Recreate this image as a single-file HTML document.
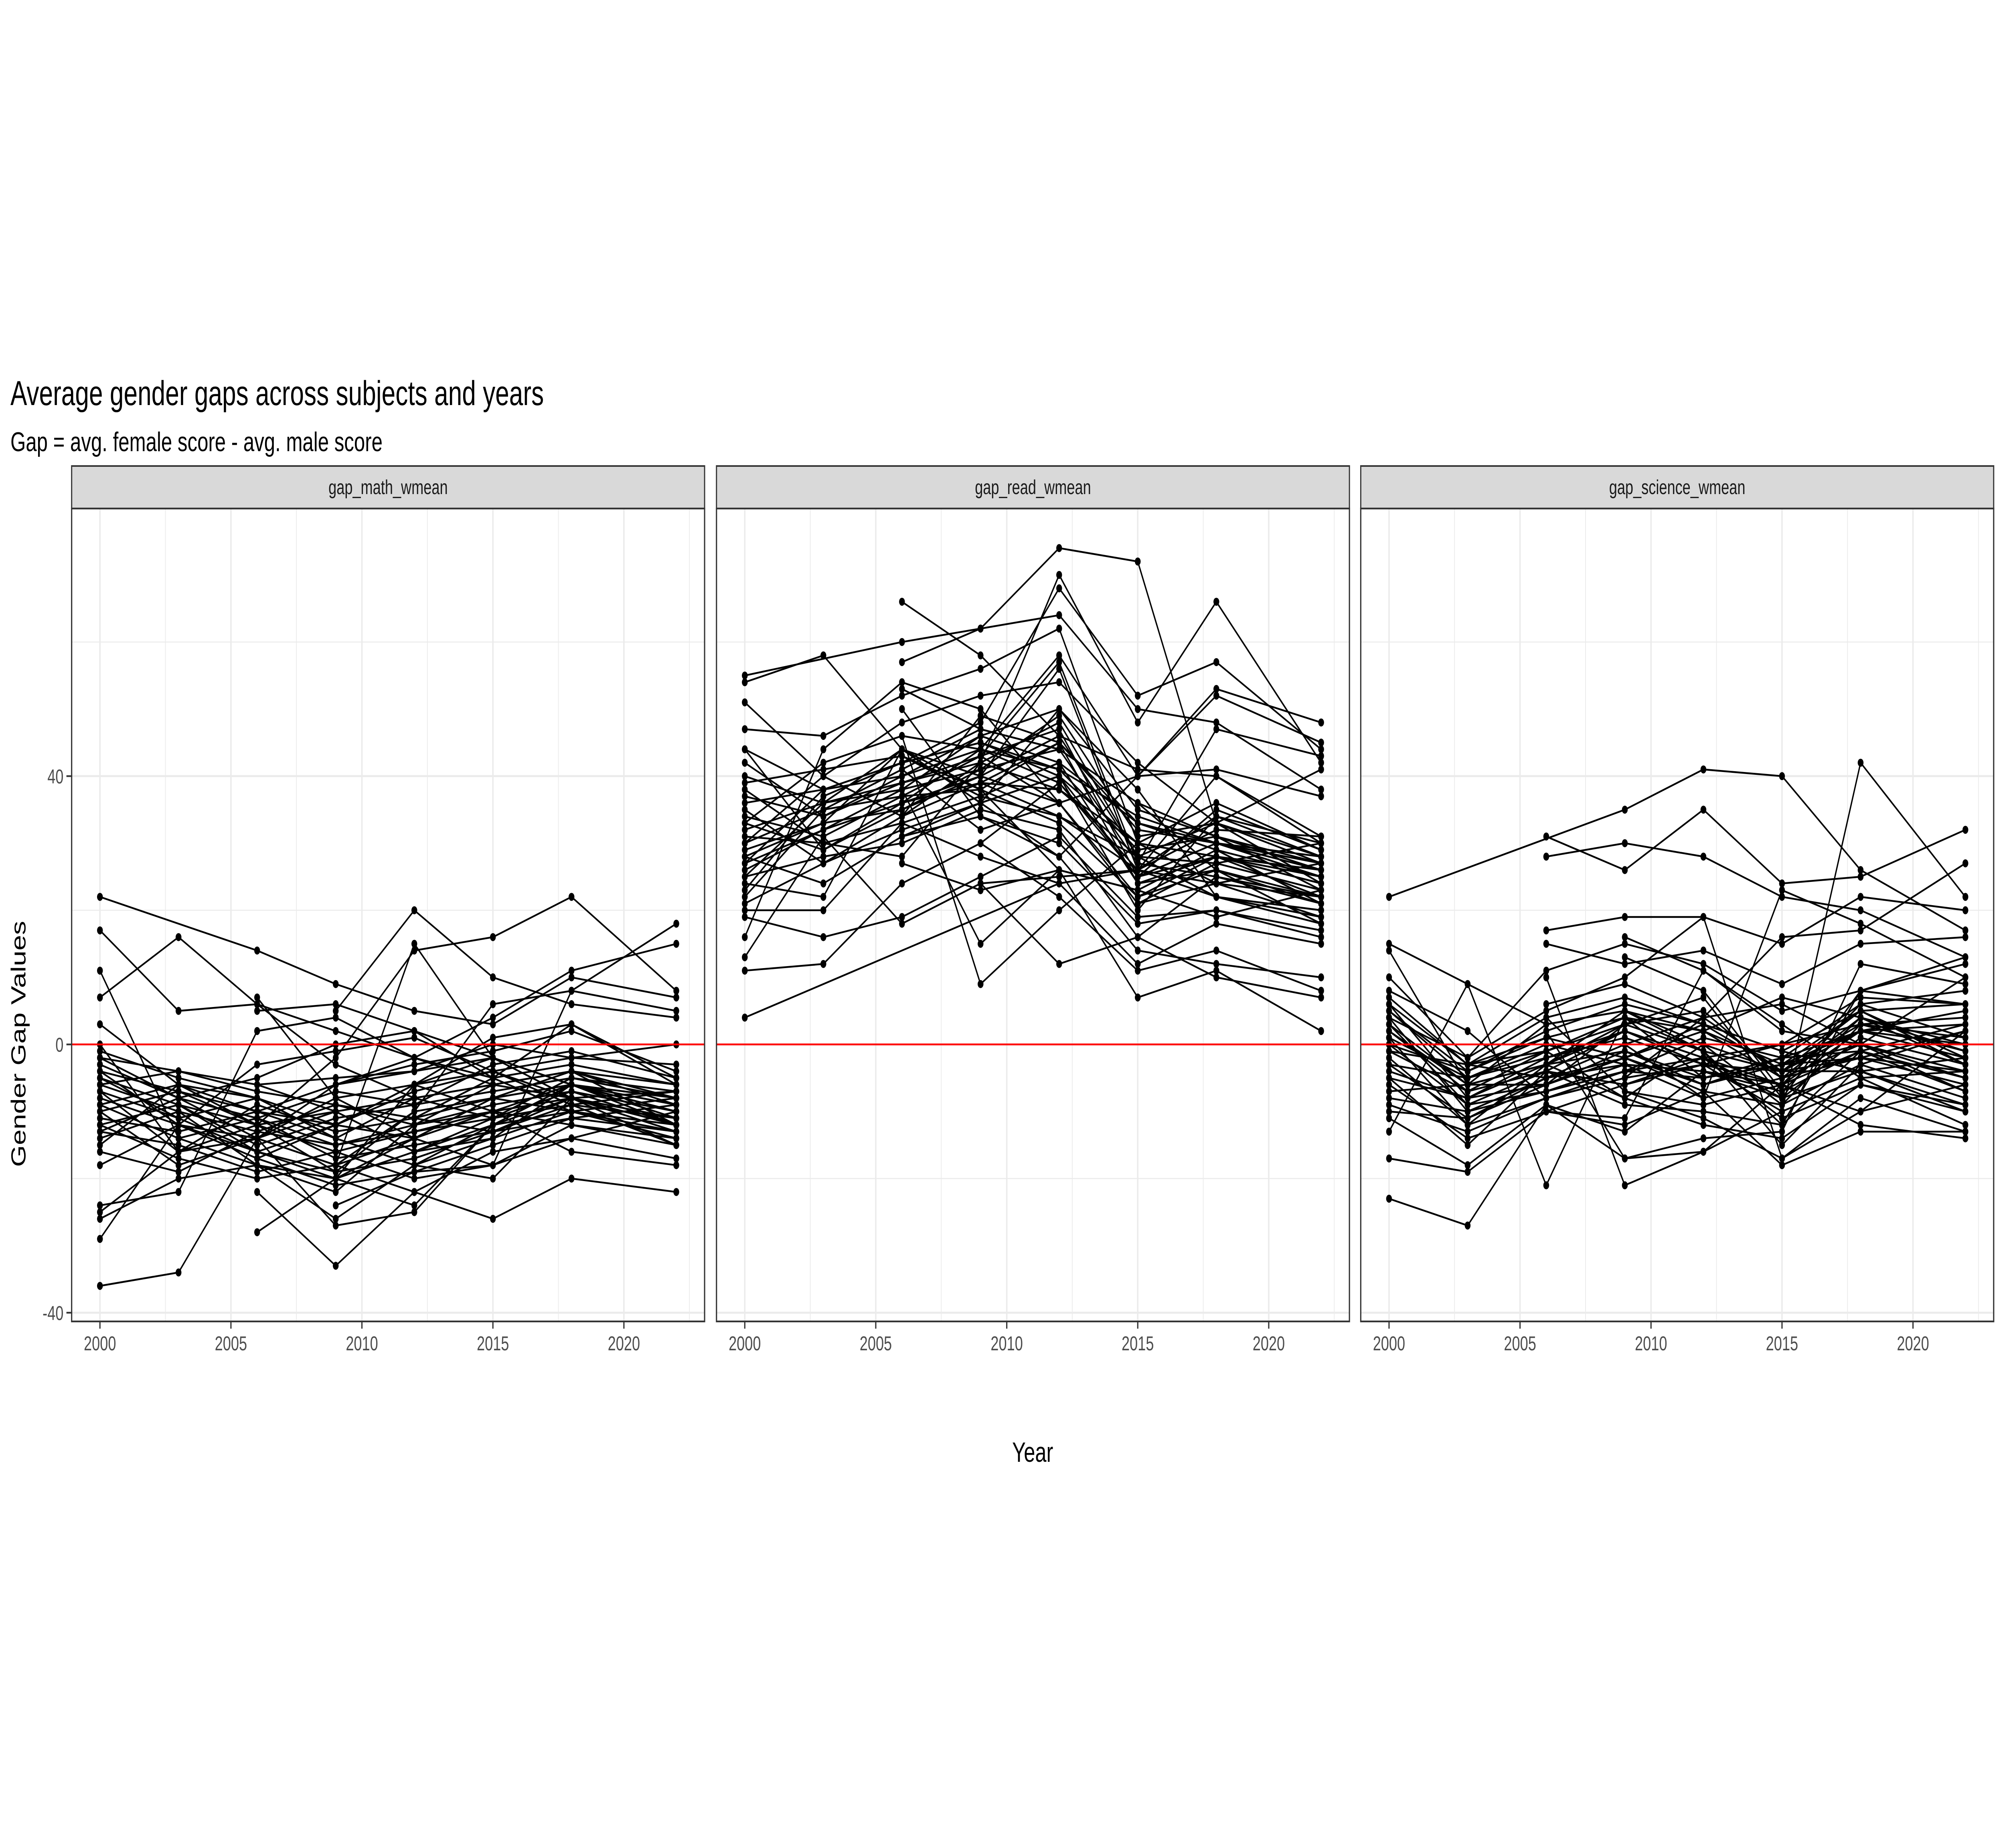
<!DOCTYPE html>
<html><head><meta charset="utf-8">
<style>
html,body{margin:0;padding:0;background:#fff;overflow:hidden;width:100vw;height:100vh;}
svg{display:block;font-family:"Liberation Sans",Arial,sans-serif;width:100vw;height:100vh;}
</style></head>
<body>
<svg id="chart" viewBox="0 0 6912 4608" preserveAspectRatio="none" xmlns="http://www.w3.org/2000/svg">
<rect width="6912" height="4608" fill="#fff"/>
<text x="36" y="1010" font-size="86" fill="#000">Average gender gaps across subjects and years</text>
<text x="36" y="1125" font-size="68" fill="#000">Gap = avg. female score - avg. male score</text>
<text transform="translate(88,2603) rotate(-90)" text-anchor="middle" font-size="70" fill="#000">Gender Gap Values</text>
<text x="3560" y="3645" text-anchor="middle" font-size="70" fill="#000">Year</text>
<g id="panels"></g>
</svg>
<script>
const years = [2000,2003,2006,2009,2012,2015,2018,2022];
const panelNames = ["gap_math_wmean","gap_read_wmean","gap_science_wmean"];
const yTicks = [-40,0,40];
const yMinor = [-20,20,60];
const xTicks = [2000,2005,2010,2015,2020];
const xMinor = [2002.5,2007.5,2012.5,2017.5,2022.5];
const mathSeries = [
[22,null,14,9,5,3,10,7],[17,5,6,-3,-8,-6,-4,-12],[11,-14,-18,-20,-24,-12,-6,-10],[7,16,6,2,-2,-5,3,-5],
[3,-6,-10,-14,-18,-20,-8,-11],[0,-16,-12,-2,14,16,22,8],[-1,-5,-8,-12,-6,-2,-6,-12],[-3,-8,-14,-18,-14,-8,-6,-10],
[-4,-7,-10,-12,-14,-10,-8,-13],[-5,-9,-12,-10,-8,-6,-4,-9],[-6,-4,-6,-5,-4,-2,-6,-11],[-7,-11,-16,-20,-16,-12,-10,-14],
[-8,-12,-3,-1,1,-4,-8,-12],[-9,-6,-8,-14,-18,-14,-6,-8],[-10,-18,-14,-8,-6,-10,-12,-15],[-11,-13,-10,-6,-3,-1,2,-4],
[-12,-17,-20,-18,-10,-8,-4,-6],[-13,-8,-5,0,2,-5,-10,-13],[-14,-10,-18,-22,-12,-6,-8,-15],[-15,-6,-12,-16,-20,-18,-14,-17],
[-18,-12,-14,-10,-16,-14,-10,-12],[-24,-22,2,4,-2,-6,-4,-8],[-25,-16,-14,-18,-22,-16,-14,-10],[-26,-20,-18,-26,-18,-12,-8,-7],
[-29,-12,-16,-12,-6,-4,-2,0],[-36,-34,-14,-6,-4,0,-2,-3],[null,null,5,6,2,-2,-6,-9],[null,null,7,-8,-14,-18,-12,-14],
[null,null,-28,-20,-14,-8,-6,-10],[null,null,-22,-33,-22,-26,-20,-22],[null,null,-14,-27,-25,-12,-10,-8],[null,null,null,5,20,10,6,4],
[null,null,null,-18,15,-2,-8,-12],[null,null,null,-24,-19,-18,8,18],[null,null,null,-6,-2,4,11,15],[null,null,null,-9,-12,-10,-16,-18],
[null,null,null,-20,-6,1,3,-6],[null,null,-11,-15,-13,-11,-9,-7],[-2,-4,-7,-9,-11,-13,-11,-9],[null,-9,-16,-19,-10,6,8,5],
[-6,-10,-13,-15,-12,-9,-7,-10],[-9,-14,-11,-17,-15,-13,-8,-12],[-12,-9,-15,-11,-9,-7,-5,-8],[-4,-12,-17,-21,-19,-15,-11,-13],
[-7,-16,-9,-13,-11,-5,-3,-6],[-10,-7,-12,-19,-17,-13,-9,-11],[-2,-8,-11,-7,-9,-3,-1,-5],[-13,-15,-19,-16,-13,-10,-6,-9],
[-16,-19,-13,-9,-11,-8,-10,-14],[-5,-11,-8,-14,-8,-11,-7,-12],[null,null,-6,-10,-16,-11,-5,-7],[null,null,-17,-12,-7,-4,-9,-15]
];
const readSeries = [
[55,null,60,62,74,72,33,41],[54,58,44,36,50,38,22,20],[51,40,34,42,70,48,66,42],[47,46,52,56,62,30,28,25],
[44,38,42,48,68,52,57,44],[44,29,36,40,56,26,40,31],[42,34,40,44,58,40,53,48],[40,36,44,38,45,32,30,28],
[38,30,28,42,48,28,33,24],[37,34,39,43,36,22,26,18],[35,27,32,36,40,20,34,30],[33,42,46,44,39,25,28,22],
[32,36,38,41,44,36,31,23],[31,30,33,37,34,26,24,19],[30,40,48,52,54,42,33,27],[29,33,35,40,46,28,22,20],
[28,24,31,34,30,18,20,16],[27,38,40,46,42,24,28,26],[26,32,36,39,38,30,36,29],[25,28,30,35,32,16,25,22],
[24,22,44,36,28,14,12,10],[23,37,42,45,41,34,30,25],[22,35,37,38,26,23,29,21],[20,20,33,28,24,12,18,15],
[19,16,19,25,31,19,20,17],[16,44,54,50,36,40,41,37],[13,31,18,24,12,16,10,7],[11,12,24,30,22,11,14,8],
[4,null,null,null,24,26,34,28],[null,null,66,58,46,41,40,30],[null,null,57,62,64,50,48,38],[null,null,53,47,44,36,26,21],
[null,null,50,34,28,40,52,45],[null,null,46,9,20,30,24,22],[null,null,41,32,36,21,24,27],[null,null,38,15,26,7,11,2],
[null,null,27,23,26,23,19,23],[null,null,34,49,45,33,30,27],[null,null,null,43,57,27,47,43],[null,null,null,30,39,26,32,31],
[null,null,null,24,25,26,22,18],[null,null,null,39,34,28,27,30],
[36,38,42,45,40,30,28,24],[34,31,37,43,47,25,30,26],[30,35,41,47,44,27,25,21],[28,33,44,40,36,21,27,23],
[33,29,35,41,49,31,33,28],[25,36,39,42,38,28,22,19],[39,41,43,37,42,33,29,25],[21,27,34,39,45,24,26,22],
[null,null,36,44,41,29,31,26],[null,null,43,38,33,22,28,24],[null,null,31,36,40,25,35,29],[27,32,38,46,50,35,31,27]
];
const scienceSeries = [
[22,null,null,35,41,40,26,17],[15,9,3,5,2,-3,0,-5],[14,-6,-3,2,-2,-6,2,5],[10,-2,5,10,19,-17,-8,-13],
[8,2,-8,-5,4,6,0,10],[7,-3,1,4,-1,-4,3,1],[6,-8,-3,-1,-5,-2,6,8],[5,-4,2,6,3,-1,-4,-2],
[4,-10,-5,-2,2,7,4,-1],[3,-6,-6,3,7,-8,8,12],[2,-7,-4,-6,-3,-4,-2,-6],[1,-5,-2,1,-3,-10,-5,-4],
[0,-9,-7,-4,1,-2,2,0],[-1,-3,4,-7,-9,-6,-1,3],[-2,-12,-8,-4,-5,-3,5,-3],[-3,-5,-1,3,5,-5,0,-7],
[-4,-8,-6,-2,-7,-9,-3,-8],[-6,-14,-10,-6,-2,0,3,-1],[-7,-6,-3,-8,-12,-14,-6,-10],[-10,-11,-5,-3,-4,-6,-12,-14],
[-11,-18,-9,-17,-16,-6,-10,2],[-13,9,-21,4,-5,-3,-2,2],[-17,-19,-10,-12,-7,-18,-13,-13],[-23,-27,-9,-13,-4,-8,-4,-10],
[-9,-13,-8,-5,-3,0,7,6],[-5,-15,-4,-9,-10,-12,-1,-5],[4,-2,11,15,12,5,8,13],[null,null,31,26,35,24,25,32],
[null,null,28,30,28,22,20,13],[null,null,17,19,19,15,22,20],[null,null,15,12,14,9,15,16],[null,null,10,-21,-16,-10,42,22],
[null,null,6,9,4,16,17,27],[null,null,2,-17,-14,-13,12,9],[null,null,-10,-11,11,2,0,-4],[null,null,-3,5,-1,-15,-3,2],
[null,null,null,13,8,-7,4,-3],[null,null,null,16,11,3,-5,-12],[null,null,null,-7,-11,-17,-10,-6],[null,null,null,0,-8,23,18,10],
[null,null,null,-2,3,-4,-4,-9],[null,-3,-1,-8,0,-4,5,6],
[3,-9,-4,2,-2,-8,1,-3],[-1,-7,-1,4,2,-5,4,0],[5,-5,0,-3,-4,-7,-1,-5],[-3,-11,-6,-1,-6,-3,2,-2],
[2,-6,3,5,0,-9,3,4],[-5,-8,-2,2,-3,-6,6,1],[0,-4,1,-2,-6,-2,-1,-7],[6,-3,-5,0,4,-4,2,3],
[null,null,-7,-4,-2,-11,-6,-9],[null,null,4,7,3,-1,5,-2],[-8,-10,-7,-3,-8,-5,-2,-4],[1,-12,-3,3,-1,-12,8,6]
];
const allSeries = [mathSeries, readSeries, scienceSeries];

const NS = "http://www.w3.org/2000/svg";
const panelLefts = [247, 2470, 4691];
const PW = 2182, TOP = 1268, BOT = 3295, STRIP_TOP = 1162;
const Y0 = -41.3, Y1 = 79.9, X0 = 1998.92, X1 = 2023.08;
function mk(tag, attrs, parent){const e=document.createElementNS(NS,tag);for(const k in attrs)e.setAttribute(k,attrs[k]);parent.appendChild(e);return e;}
const root = document.getElementById('panels');
panelNames.forEach((name, p) => {
  const L = panelLefts[p];
  const sx = v => L + (v - X0) / (X1 - X0) * PW;
  const sy = v => BOT - (v - Y0) / (Y1 - Y0) * (BOT - TOP);
  const g = mk('g', {}, root);
  
  
  const st = mk('rect', {x:L, y:STRIP_TOP, width:PW, height:TOP-STRIP_TOP, fill:'#d9d9d9', stroke:'#333', 'stroke-width':4}, g);
  
  
  const stt = mk('text', {x:L+PW/2, y:(STRIP_TOP+TOP)/2+17, 'text-anchor':'middle', 'font-size':50, fill:'#1a1a1a'}, g);
  stt.textContent = name;
  
  
  yMinor.forEach(v => mk('line', {x1:L, x2:L+PW, y1:sy(v), y2:sy(v), stroke:'#ebebeb', 'stroke-width':2.5}, g));
  xMinor.forEach(v => mk('line', {x1:sx(v), x2:sx(v), y1:TOP, y2:BOT, stroke:'#ebebeb', 'stroke-width':2.5}, g));
  yTicks.forEach(v => mk('line', {x1:L, x2:L+PW, y1:sy(v), y2:sy(v), stroke:'#ebebeb', 'stroke-width':5}, g));
  xTicks.forEach(v => mk('line', {x1:sx(v), x2:sx(v), y1:TOP, y2:BOT, stroke:'#ebebeb', 'stroke-width':5}, g));
  allSeries[p].forEach((s, i) => {
    const pts = [];
    s.forEach((v, j) => { if (v !== null) pts.push([sx(years[j]), sy(v)]); });
    const pl = mk('polyline', {points: pts.map(q => q.join(',')).join(' '), fill:'none', stroke:'#000', 'stroke-width':4.5}, g);
    
    
    pts.forEach(q => {
      const c = mk('circle', {cx:q[0], cy:q[1], r:10, fill:'#000'}, g);
      
      
    });
  });
  const z = mk('line', {x1:L, x2:L+PW, y1:sy(0), y2:sy(0), stroke:'#ff0000', 'stroke-width':4.5}, g);
  
  
  mk('rect', {x:L, y:TOP, width:PW, height:BOT-TOP, fill:'none', stroke:'#333', 'stroke-width':4.3}, g);
  xTicks.forEach(v => {
    mk('line', {x1:sx(v), x2:sx(v), y1:BOT, y2:BOT+18, stroke:'#333', 'stroke-width':4.3}, g);
    const t = mk('text', {x:sx(v), y:BOT+72, 'text-anchor':'middle', 'font-size':50, fill:'#4d4d4d'}, g);
    t.textContent = v;
    
    
  });
  if (p === 0) {
    yTicks.forEach(v => {
      mk('line', {x1:L-18, x2:L, y1:sy(v), y2:sy(v), stroke:'#333', 'stroke-width':4.3}, g);
      const t = mk('text', {x:L-28, y:sy(v)+18, 'text-anchor':'end', 'font-size':50, fill:'#4d4d4d'}, g);
      t.textContent = v;
      
      
    });
  }
});
</script>
</body></html>
